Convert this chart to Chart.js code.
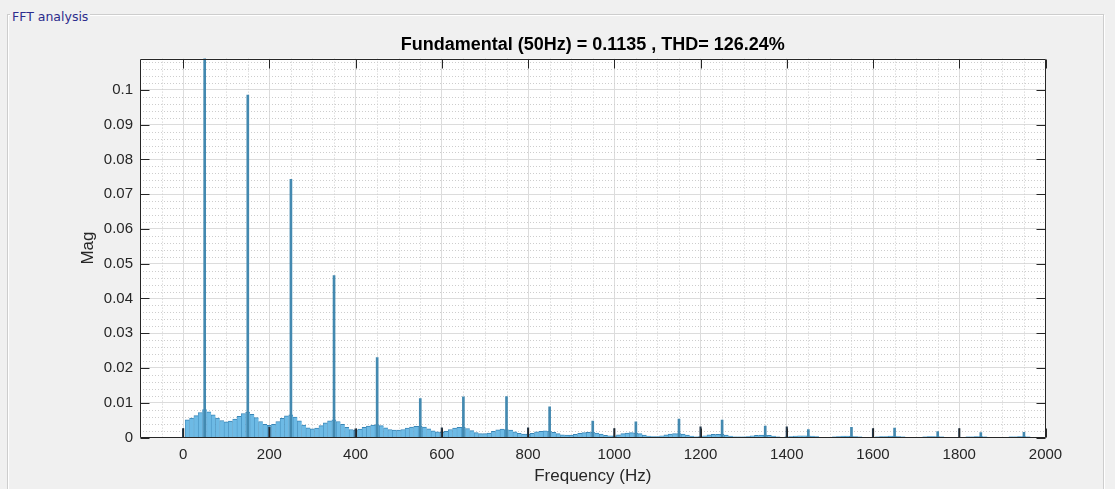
<!DOCTYPE html>
<html>
<head>
<meta charset="utf-8">
<script src="https://cdn.jsdelivr.net/npm/chart.js"></script>
<style>
  html, body { margin: 0; padding: 0; background: #f0f0f0; }
  #wrap { position: relative; width: 1115px; height: 489px; overflow: hidden; }
  #panel { position: absolute; left: 7px; top: 14px; width: 1095px; height: 490px;
           border: 1px solid #cdcdcd; box-shadow: inset 1px 1px 0 #fff, 1px 1px 0 #fff; }
  #panelTitle { position: absolute; left: 10px; top: 9px; padding: 0 2px; line-height: 14px;
                background: #f0f0f0; font: 12.5px "DejaVu Sans", sans-serif; color: #2c2c8c; z-index: 2; }
  canvas { position: absolute; left: 0; top: 0; z-index: 1; }
</style>
</head>
<body>
<div id="wrap">
  <div id="panel"></div>
  <span id="panelTitle">FFT analysis</span>
  <canvas id="fft" width="1115" height="489"></canvas>
</div>
<script>
const chartTitle = "Fundamental (50Hz) = 0.1135 , THD= 126.24%";
const xTicks = [0, 200, 400, 600, 800, 1000, 1200, 1400, 1600, 1800, 2000];
const yTicks = [0, 0.01, 0.02, 0.03, 0.04, 0.05, 0.06, 0.07, 0.08, 0.09, 0.1];

// odd harmonics (stems)
const harmFreq = [50, 150, 250, 350, 450, 550, 650, 750, 850, 950, 1050, 1150, 1250, 1350, 1450, 1550, 1650, 1750, 1850, 1950];
const harmMag = [0.1135, 0.0985, 0.0743, 0.0466, 0.0230, 0.0112, 0.0117, 0.0118, 0.0088, 0.0047,
                 0.0045, 0.0053, 0.0050, 0.0033, 0.0023, 0.0029, 0.0027, 0.0017, 0.0014, 0.0015];

// DC and multiples of 200 Hz
const evenFreq = [0, 200, 400, 600, 800, 1000, 1200, 1400, 1600, 1800];
const evenMag = [0.0026, 0.0030, 0.0025, 0.0028, 0.0028, 0.0026, 0.0031, 0.0031, 0.0026, 0.0026];

// background spectrum, one value per 10 Hz bin from 0 to 2000 Hz
const binHz = 10;
const spectrumMag = [
  0, 0.0051, 0.0056, 0.0063, 0.0072, 0.0080, 0.0074, 0.0065, 0.0056, 0.0049,
  0.0045, 0.0047, 0.0053, 0.0061, 0.0069, 0.0073, 0.0067, 0.0057, 0.0046, 0.0038,
  0.0035, 0.0038, 0.0046, 0.0055, 0.0062, 0.0065, 0.0059, 0.0048, 0.0036, 0.0028,
  0.0025, 0.0027, 0.0034, 0.0042, 0.0048, 0.0051, 0.0046, 0.0038, 0.0029, 0.0023,
  0.0021, 0.0024, 0.0029, 0.0033, 0.0036, 0.0037, 0.0034, 0.0028, 0.0023, 0.0021,
  0.0021, 0.0023, 0.0027, 0.0030, 0.0032, 0.0032, 0.0030, 0.0025, 0.0019, 0.0016,
  0.0015, 0.0018, 0.0023, 0.0027, 0.0029, 0.0029, 0.0026, 0.0020, 0.0014, 0.0011,
  0.0011, 0.0013, 0.0018, 0.0022, 0.0024, 0.0023, 0.0021, 0.0016, 0.0012, 0.0010,
  0.0010, 0.0012, 0.0016, 0.0018, 0.0019, 0.0018, 0.0015, 0.0011, 0.0008, 0.0007,
  0.0007, 0.0009, 0.0012, 0.0014, 0.0015, 0.0015, 0.0013, 0.0010, 0.0006, 0.0005,
  0.0005, 0.0008, 0.0011, 0.0013, 0.0014, 0.0013, 0.0011, 0.0007, 0.0004, 0.0003,
  0.0003, 0.0005, 0.0008, 0.0010, 0.0011, 0.0011, 0.0010, 0.0007, 0.0004, 0.0002,
  0.0003, 0.0005, 0.0008, 0.0009, 0.0009, 0.0009, 0.0007, 0.0004, 0.0002, 0.0002,
  0.0002, 0.0003, 0.0005, 0.0006, 0.0007, 0.0007, 0.0006, 0.0004, 0.0002, 0.0001,
  0.0002, 0.0003, 0.0004, 0.0005, 0.0005, 0.0005, 0.0004, 0.0003, 0.0001, 0.0001,
  0.0001, 0.0002, 0.0003, 0.0004, 0.0004, 0.0004, 0.0003, 0.0002, 0.0001, 0.0001,
  0.0001, 0.0002, 0.0003, 0.0003, 0.0004, 0.0004, 0.0003, 0.0002, 0.0001, 0.0001,
  0.0001, 0.0001, 0.0002, 0.0003, 0.0003, 0.0003, 0.0002, 0.0001, 0.0001, 0.0001,
  0.0001, 0.0001, 0.0002, 0.0002, 0.0003, 0.0003, 0.0002, 0.0001, 0.0001, 0.0001,
  0.0001, 0.0001, 0.0002, 0.0002, 0.0003, 0.0003, 0.0002, 0.0001, 0.0001, 0.0001,
  0.0001
];

const xMin = -100, xMax = 2000, yMax = 0.109;
const axisColor = '#262626';

// white plot area, dotted minor grid, box with inward ticks (MATLAB look)
const matlabAxes = {
  id: 'matlabAxes',
  beforeDraw(chart) {
    const { ctx, chartArea: a } = chart;
    ctx.save();
    ctx.fillStyle = '#ffffff';
    ctx.fillRect(a.left, a.top, a.right - a.left, a.bottom - a.top);
    ctx.restore();
  },
  beforeDatasetsDraw(chart) {
    const { ctx, chartArea: a, scales: { x, y } } = chart;
    ctx.save();
    ctx.strokeStyle = '#cdcdcd';
    ctx.lineWidth = 1;
    ctx.setLineDash([1, 2]);
    ctx.beginPath();
    for (let f = -50; f < xMax; f += 50) {
      if (f % 200 === 0) continue;
      const px = Math.round(x.getPixelForValue(f)) + 0.5;
      ctx.moveTo(px, a.top);
      ctx.lineTo(px, a.bottom);
    }
    for (let k = 1; k * 0.002 < yMax; k++) {
      if (k % 5 === 0) continue;
      const py = Math.round(y.getPixelForValue(k * 0.002)) + 0.5;
      ctx.moveTo(a.left, py);
      ctx.lineTo(a.right, py);
    }
    ctx.stroke();
    ctx.restore();
  },
  afterDraw(chart) {
    const { ctx, chartArea: a, scales: { x, y } } = chart;
    const L = Math.round(a.left) + 0.5, R = Math.round(a.right) - 0.5;
    const T = Math.round(a.top) + 0.5, B = Math.round(a.bottom) - 0.5;
    const len = 9;
    ctx.save();
    ctx.strokeStyle = axisColor;
    ctx.lineWidth = 1;
    ctx.beginPath();
    ctx.rect(L, T, R - L, B - T);
    xTicks.forEach(v => {
      const px = Math.round(x.getPixelForValue(v)) + 0.5;
      ctx.moveTo(px, B); ctx.lineTo(px, B - len);
      ctx.moveTo(px, T); ctx.lineTo(px, T + len);
    });
    yTicks.forEach(v => {
      const py = Math.round(y.getPixelForValue(v)) + 0.5;
      ctx.moveTo(L, py); ctx.lineTo(L + len, py);
      ctx.moveTo(R, py); ctx.lineTo(R - len, py);
    });
    ctx.stroke();
    ctx.restore();
  }
};

Chart.defaults.font.family = '"Liberation Sans", Arial, Helvetica, sans-serif';
Chart.defaults.color = axisColor;

new Chart(document.getElementById('fft'), {
  type: 'bar',
  data: {
    datasets: [
      {
        label: 'Harmonics',
        data: harmFreq.map((f, i) => ({ x: f, y: harmMag[i] })),
        backgroundColor: '#4389b0',
        barThickness: 2,
        order: 0
      },
      {
        label: 'Even',
        data: evenFreq.map((f, i) => ({ x: f, y: evenMag[i] })),
        backgroundColor: '#24384a',
        barThickness: 1.5,
        order: 1
      },
      {
        label: 'Spectrum',
        data: spectrumMag.map((m, i) => ({ x: i * binHz, y: m })),
        backgroundColor: '#6dbae5',
        borderColor: '#3a86b6',
        borderWidth: { top: 1, left: 0.6, right: 0, bottom: 0 },
        barThickness: 4.32,
        order: 2
      }
    ]
  },
  options: {
    responsive: false,
    animation: false,
    devicePixelRatio: 1,
    datasets: { bar: { grouped: false } },
    layout: { padding: { left: 70, right: 69.5, top: 34, bottom: 0 } },
    plugins: {
      legend: { display: false },
      tooltip: { enabled: false },
      title: {
        display: true,
        text: chartTitle,
        fullSize: false,
        color: '#000000',
        font: { size: 18, weight: 'bold' },
        padding: { top: 0, bottom: 3 }
      }
    },
    scales: {
      x: {
        type: 'linear',
        min: xMin,
        max: xMax,
        offset: false,
        afterBuildTicks: s => { s.ticks = xTicks.map(v => ({ value: v })); },
        afterFit: s => { s.height = 51.5; },
        ticks: { font: { size: 15 }, padding: 8, maxRotation: 0, callback: v => String(v) },
        grid: { color: '#dcdcdc', drawTicks: false, offset: false },
        border: { display: false },
        title: { display: true, text: 'Frequency (Hz)', font: { size: 17 }, padding: { top: 0, bottom: 2 } }
      },
      y: {
        type: 'linear',
        min: 0,
        max: yMax,
        afterBuildTicks: s => { s.ticks = yTicks.map(v => ({ value: v })); },
        afterFit: s => { s.width = 70; },
        ticks: { font: { size: 15 }, padding: 7, callback: v => String(v) },
        grid: { color: '#dcdcdc', drawTicks: false },
        border: { display: false },
        title: { display: true, text: 'Mag', font: { size: 17 }, padding: { top: 8, bottom: 0 } }
      }
    }
  },
  plugins: [matlabAxes]
});
</script>
</body>
</html>
